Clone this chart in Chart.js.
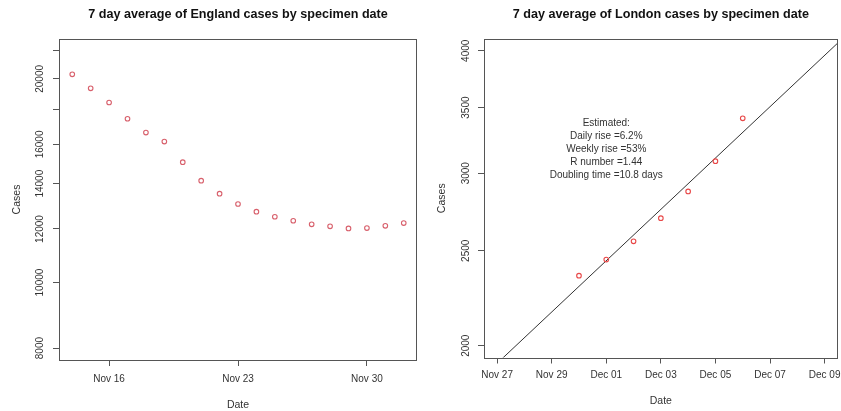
<!DOCTYPE html>
<html>
<head>
<meta charset="utf-8">
<script src="https://cdn.jsdelivr.net/npm/chart.js@4"></script>
<style>
  html, body { margin: 0; padding: 0; background: #fff; }
  #wrap { position: relative; width: 841px; height: 411px; }
  canvas { position: absolute; top: 0; }
  #england { left: 0; }
  #london { left: 420px; }
</style>
</head>
<body>
<div id="wrap">
  <canvas id="england" width="420" height="411"></canvas>
  <canvas id="london" width="421" height="411"></canvas>
</div>
<script>
// England: 7 day average by specimen date
const englandDates = ['2020-11-14', '2020-11-15', '2020-11-16', '2020-11-17', '2020-11-18', '2020-11-19',
  '2020-11-20', '2020-11-21', '2020-11-22', '2020-11-23', '2020-11-24', '2020-11-25', '2020-11-26',
  '2020-11-27', '2020-11-28', '2020-11-29', '2020-11-30', '2020-12-01', '2020-12-02'];
const englandCases = [20310, 19365, 18457, 17462, 16663, 16158, 15061, 14144, 13532, 13064,
  12726, 12510, 12340, 12190, 12107, 12024, 12036, 12131, 12244];
const englandYLim = [8000, 22000];
const englandYTicks = [8000, 10000, 12000, 14000, 16000, 18000, 20000, 22000];
const englandYLabels = ['8000', '10000', '12000', '14000', '16000', '', '20000', ''];
const englandXTicks = ['2020-11-16', '2020-11-23', '2020-11-30'];
const englandXLabels = ['Nov 16', 'Nov 23', 'Nov 30'];

// London: 7 day average by specimen date
const londonDates = ['2020-11-30', '2020-12-01', '2020-12-02', '2020-12-03', '2020-12-04', '2020-12-05', '2020-12-06'];
const londonCases = [2358, 2449, 2556, 2699, 2874, 3086, 3413];
const londonXLim = ['2020-11-27', '2020-12-09'];
const londonYLim = [2000, 4000];
const londonYTicks = [2000, 2500, 3000, 3500, 4000];
const londonYLabels = ['2000', '2500', '3000', '3500', '4000'];
const londonXTicks = ['2020-11-27', '2020-11-29', '2020-12-01', '2020-12-03', '2020-12-05', '2020-12-07', '2020-12-09'];
const londonXLabels = ['Nov 27', 'Nov 29', 'Dec 01', 'Dec 03', 'Dec 05', 'Dec 07', 'Dec 09'];
const londonNote = ['Estimated:', 'Daily rise =6.2%', 'Weekly rise =53%', 'R number =1.44', 'Doubling time =10.8 days'];
const londonNoteAt = ['2020-12-01', 3175];

const FONT = '"Liberation Sans", Arial, sans-serif';
Chart.defaults.font.family = FONT;
Chart.defaults.color = '#333';

const day = s => Date.parse(s + 'T00:00:00Z') / 864e5;

// R style axis range: 4% extra each side
function widen(a, b) {
  const d = (b - a) * 0.04;
  return [a - d, b + d];
}
function widenLog(a, b) {
  const r = widen(Math.log(a), Math.log(b));
  return [Math.exp(r[0]), Math.exp(r[1])];
}

// box, title and text note
const framePlugin = {
  id: 'frame',
  afterDraw(chart, args, o) {
    const ctx = chart.ctx;
    const a = chart.chartArea;
    ctx.save();
    ctx.strokeStyle = '#555';
    ctx.lineWidth = 1;
    const l = Math.round(a.left), t = Math.round(a.top);
    ctx.strokeRect(l + 0.5, t + 0.5, Math.round(a.right) - l - 1, Math.round(a.bottom) - t);

    ctx.fillStyle = '#111';
    ctx.font = 'bold 12.6px ' + FONT;
    ctx.textAlign = 'center';
    ctx.textBaseline = 'middle';
    ctx.fillText(o.title, (a.left + a.right) / 2, 15);

    if (o.note) {
      const x = chart.scales.x.getPixelForValue(day(o.noteAt[0]));
      const y = chart.scales.y.getPixelForValue(o.noteAt[1]);
      const lh = 13.1;
      ctx.fillStyle = '#333';
      ctx.font = '10px ' + FONT;
      o.note.forEach((line, i) => {
        ctx.fillText(line, x, y + (i - (o.note.length - 1) / 2) * lh);
      });
    }
    ctx.restore();
  }
};

function makeChart(id, cfg) {
  const tickGrid = { drawOnChartArea: false, drawTicks: true, tickLength: 6, color: '#555' };
  return new Chart(document.getElementById(id), {
    type: 'scatter',
    data: { datasets: cfg.datasets },
    options: {
      responsive: false,
      animation: false,
      events: [],
      layout: { autoPadding: false, padding: { top: 39, right: cfg.padRight, left: 0, bottom: 0 } },
      plugins: {
        legend: { display: false },
        tooltip: { enabled: false },
        frame: { title: cfg.title, note: cfg.note, noteAt: cfg.noteAt }
      },
      scales: {
        x: {
          type: 'linear',
          min: cfg.xRange[0],
          max: cfg.xRange[1],
          bounds: 'data',
          afterBuildTicks: s => { s.ticks = cfg.xTicks.map(v => ({ value: day(v) })); },
          afterFit: s => { s.height = cfg.xHeight; s.paddingLeft = 0; s.paddingRight = 0; },
          ticks: {
            autoSkip: false, maxRotation: 0, padding: cfg.xPad,
            font: { size: 10 }, color: '#333',
            callback: (v, i) => cfg.xLabels[i]
          },
          grid: tickGrid,
          border: { display: false },
          title: { display: true, text: 'Date', color: '#333', font: { size: 10.5 }, padding: { top: 0, bottom: cfg.xTitlePad } }
        },
        y: {
          type: 'logarithmic',
          min: cfg.yRange[0],
          max: cfg.yRange[1],
          bounds: 'data',
          afterBuildTicks: s => { s.ticks = cfg.yTicks.map(v => ({ value: v })); },
          afterFit: s => { s.width = cfg.yWidth; s.paddingTop = 0; s.paddingBottom = 0; },
          ticks: {
            autoSkip: false, minRotation: 90, maxRotation: 90, crossAlign: 'center',
            padding: cfg.yPad, font: { size: 10 }, color: '#333',
            callback: (v, i) => cfg.yLabels[i]
          },
          grid: tickGrid,
          border: { display: false },
          title: { display: true, text: 'Cases', color: '#333', font: { size: 10.5 }, padding: { top: cfg.yTitlePad, bottom: 0 } }
        }
      }
    },
    plugins: [framePlugin]
  });
}

// England chart
const englandDays = englandDates.map(day);
makeChart('england', {
  title: '7 day average of England cases by specimen date',
  datasets: [{
    data: englandDays.map((d, i) => ({ x: d, y: englandCases[i] })),
    pointStyle: 'circle',
    pointRadius: 2.3,
    borderWidth: 1.1,
    borderColor: '#d8606c',
    backgroundColor: 'rgba(0,0,0,0)'
  }],
  xRange: widen(Math.min(...englandDays), Math.max(...englandDays)),
  yRange: widenLog(englandYLim[0], englandYLim[1]),
  xTicks: englandXTicks, xLabels: englandXLabels,
  yTicks: englandYTicks, yLabels: englandYLabels,
  xHeight: 51, yWidth: 59, padRight: 3, xPad: 7, yPad: -1, xTitlePad: 0, yTitlePad: 10.5
});

// London chart with log-linear fit
const londonDays = londonDates.map(day);
const logs = londonCases.map(Math.log);
const mx = londonDays.reduce((a, b) => a + b, 0) / londonDays.length;
const my = logs.reduce((a, b) => a + b, 0) / logs.length;
let sxy = 0, sxx = 0;
londonDays.forEach((d, i) => { sxy += (d - mx) * (logs[i] - my); sxx += (d - mx) * (d - mx); });
const slope = sxy / sxx;
const fitAt = d => Math.exp(my + slope * (d - mx));
const londonXRange = widen(day(londonXLim[0]), day(londonXLim[1]));

makeChart('london', {
  title: '7 day average of London cases by specimen date',
  datasets: [{
    data: londonDays.map((d, i) => ({ x: d, y: londonCases[i] })),
    pointStyle: 'circle',
    pointRadius: 2.3,
    borderWidth: 1.1,
    borderColor: '#e84848',
    backgroundColor: 'rgba(0,0,0,0)'
  }, {
    type: 'line',
    data: londonXRange.map(d => ({ x: d, y: fitAt(d) })),
    pointRadius: 0,
    borderWidth: 1,
    borderColor: '#333',
    fill: false
  }],
  note: londonNote, noteAt: londonNoteAt,
  xRange: londonXRange,
  yRange: widenLog(londonYLim[0], londonYLim[1]),
  xTicks: londonXTicks, xLabels: londonXLabels,
  yTicks: londonYTicks, yLabels: londonYLabels,
  xHeight: 53.5, yWidth: 64, padRight: 3.3, xPad: 6, yPad: 1, xTitlePad: 4, yTitlePad: 15.5
});
</script>
</body>
</html>
